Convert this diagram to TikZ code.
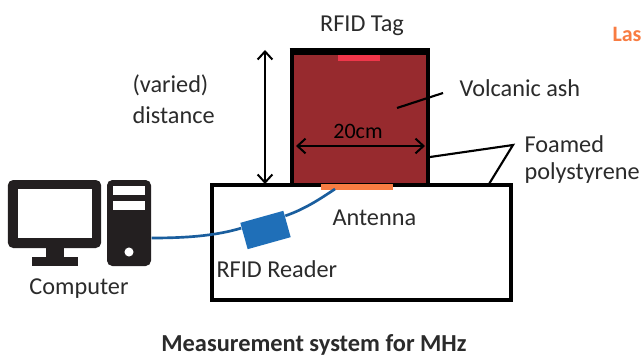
\documentclass[tikz,border=0pt]{standalone}
\usepackage{fontspec}
\setmainfont{Carlito}
\usetikzlibrary{calc, arrows.meta}
\definecolor{ashred}{HTML}{972A2E}
\definecolor{tagred}{HTML}{F0364A}
\definecolor{antorange}{HTML}{F87C42}
\definecolor{readerblue}{HTML}{1F6FB8}
\definecolor{wireblue}{HTML}{1A5E9E}
\definecolor{pcblack}{HTML}{231F20}
\definecolor{txtgray}{HTML}{2B2B2B}
\tikzset{
  label/.style={font=\fontsize{18.2}{21}\selectfont, text=txtgray, inner sep=0pt},
  solid block/.style={draw=none, inner sep=0pt, minimum width=#1},
  leader/.style={line width=1.6pt, black},
  wire/.style={wireblue, line width=2pt},
  span/.style={line width=1.5pt, black, {Straight Barb[length=6pt,width=11pt]}-{Straight Barb[length=6pt,width=11pt]}}
}
\begin{document}
\begin{tikzpicture}[x=0.75pt, y=-0.75pt, thick]
  \clip (0,0) rectangle (641,356);
  \fill[white] (0,0) rectangle (641,356);
  % stand and box
  \node[draw=black, line width=2.6pt, fill=white, inner sep=0pt, minimum width=224pt, minimum height=86pt] (foam) at (361.5,242.5) {};
  \node[draw=black, line width=3.4pt, fill=ashred, inner sep=0pt, minimum width=102pt, minimum height=99pt] (ash) at (360,119) {};
  \draw[line width=4pt] (ash.north west) -- (ash.north east);
  \node[solid block=31.5pt, fill=tagred, minimum height=4pt] (tag) at (359,58) {};
  \node[solid block=54pt, fill=antorange, minimum height=4.5pt] (antenna) at (357,187) {};
  % computer
  \node[fill=pcblack, rounded corners=4pt, inner sep=0pt, minimum width=33pt, minimum height=64.5pt] (tower) at (129,223) {};
  \fill[white] (113,186) rectangle (145,195);
  \fill[white] (113,201) rectangle (145,210);
  \fill[white] (129,252) circle (3.4pt);
  \node[fill=pcblack, rounded corners=4pt, inner sep=0pt, minimum width=70pt, minimum height=51pt] (monitor) at (54.5,214) {};
  \fill[white] (18,189) rectangle (92,238);
  \fill[pcblack] (46,248) rectangle (64,258);
  \fill[pcblack] (32,257) rectangle (78,266);
  % reader and its wire
  \coordinate (wireA) at ($(tower.east)+(0,15)$);
  \coordinate (wireB) at (335,189);
  \node[fill=readerblue, rotate=15.6, inner sep=0pt, minimum width=33.5pt, minimum height=20.5pt] (reader) at (265.5,230) {};
  \draw[wire] (wireA) .. controls (185,238) and (215,236) .. (reader.160);
  \draw[wire] (reader.20) .. controls (305,209) and (320,199) .. (wireB);
  % arrows
  \coordinate (distTop) at (265,50);
  \coordinate (distBot) at (265,184);
  \draw[span] (distTop) -- (distBot);
  \coordinate (widthL) at (296,146);
  \coordinate (widthR) at (425,146);
  \draw[span] (widthL) -- (widthR);
  % leader lines
  \coordinate (ashA) at (397,108);
  \coordinate (ashB) at (443,93);
  \draw[leader] (ashA) -- (ashB);
  \coordinate (foamTip) at (513,145);
  \coordinate (foamA) at (430,157);
  \coordinate (foamB) at (489,184);
  \draw[leader] (foamA) -- (foamTip) -- (foamB);
  % labels
  \node[label] (tagtxt) at (362,25.5) {RFID Tag};
  \node[label, anchor=west] (vartxt) at (132,85) {(varied)};
  \node[label, anchor=west] (disttxt) at (132,115) {distance};
  \node[label, anchor=west] (ashtxt) at (459,88) {Volcanic ash};
  \node[label, text=black, font=\fontsize{16.5}{20}\selectfont] (widthtxt) at (358,131) {20cm};
  \node[label, anchor=west] (foamtxt) at (524,144) {Foamed};
  \node[label, anchor=west] (polytxt) at (524,173) {polystyrene};
  \node[label, anchor=west] (anttxt) at (332,217.5) {Antenna};
  \node[label, anchor=west] (readtxt) at (216,269) {RFID Reader};
  \node[label] (pctxt) at (79,288.5) {Computer};
  \node[label, font=\fontsize{18.3}{21}\selectfont\bfseries] (captxt) at (314,345) {Measurement system for MHz};
  \node[label, anchor=west, text=antorange, font=\fontsize{16.5}{20}\selectfont\bfseries] (lastxt) at (612,34) {Las};
\end{tikzpicture}
\end{document}
